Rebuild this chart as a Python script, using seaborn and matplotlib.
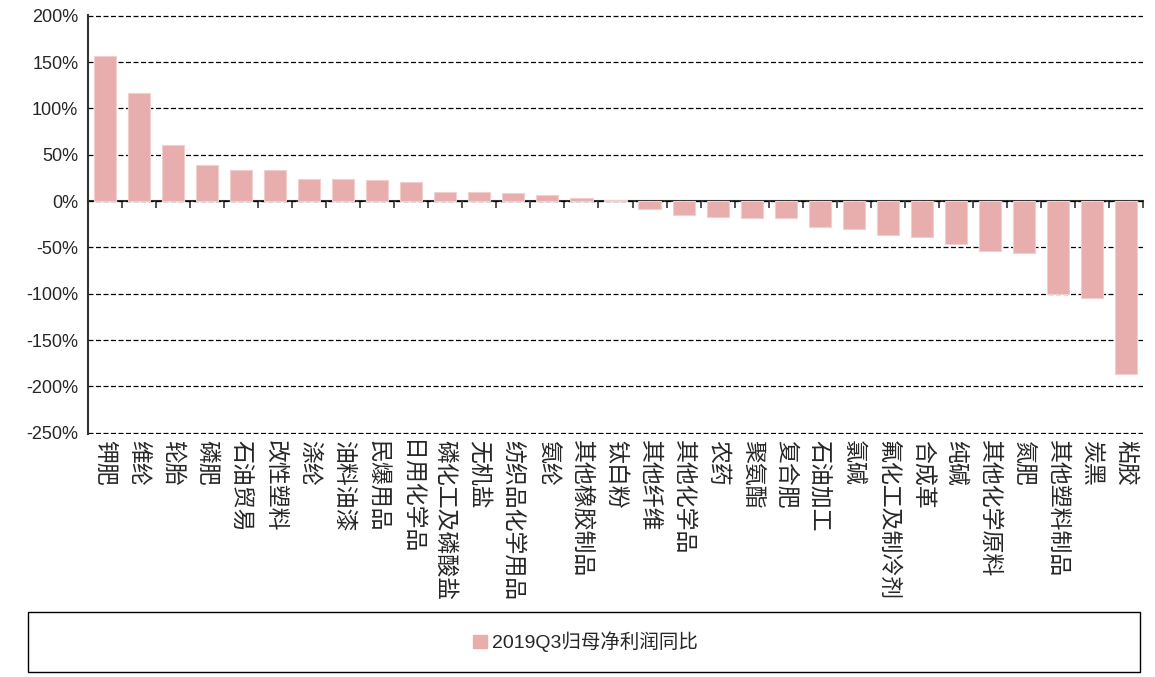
import numpy as np
import matplotlib
matplotlib.use("Agg")
import matplotlib.pyplot as plt
import seaborn as sns
from matplotlib.patches import Rectangle
from matplotlib.font_manager import FontProperties

# Data (percent)
categories = ["钾肥", "维纶", "轮胎", "磷肥", "石油贸易", "改性塑料", "涤纶", "油料油漆",
              "民爆用品", "日用化学品", "磷化工及磷酸盐", "无机盐", "纺织品化学用品", "氨纶",
              "其他橡胶制品", "钛白粉", "其他纤维", "其他化学品", "农药", "聚氨酯", "复合肥",
              "石油加工", "氯碱", "氟化工及制冷剂", "合成革", "纯碱", "其他化学原料", "氮肥",
              "其他塑料制品", "炭黑", "粘胶"]
values = [157, 117, 61, 39, 34, 34, 24, 24,
          23, 21, 10, 10, 8.5, 6.5,
          3, 1, -8.5, -15, -17, -18, -18,
          -28, -30, -36.5, -39, -46, -54, -56,
          -100, -105, -187]
series_name = "2019Q3归母净利润同比"
y_ticks = list(range(-250, 201, 50))

sns.set_style("white")
plt.rcParams["font.family"] = ["Liberation Sans", "Noto Sans CJK SC"]

fig = plt.figure(figsize=(11.55, 6.77), dpi=100)
ax = fig.add_axes([0.0762, 0.3589, 0.9134, 0.6190])

bar_color = "#E8AEAE"
sns.barplot(x=categories, y=values, color=bar_color, saturation=1, width=0.65, ax=ax,
            edgecolor="#F2CFCF", linewidth=0.8, zorder=3)

y_lo, y_hi = -251.5, 201
ax.set_xlim(-0.5, len(categories) - 0.5)
ax.set_ylim(y_lo, y_hi)
ax.set_yticks(y_ticks)
ax.set_yticklabels([f"{v}%" for v in y_ticks], fontsize=13)
ax.yaxis.grid(True, linestyle=(0, (4, 2)), color="black", linewidth=0.9)
ax.set_axisbelow(True)

for s in ["top", "right", "bottom"]:
    ax.spines[s].set_visible(False)
ax.spines["left"].set_color("#333333")
ax.spines["left"].set_linewidth(1.5)
ax.tick_params(axis="y", direction="out", length=5, width=1.2, color="#333333", pad=2)

# category labels below the plot, read top to bottom
ax.set_xticks(range(len(categories)))
ax.set_xticklabels(categories, rotation=270, fontsize=16.5,
                   fontfamily="Noto Sans CJK SC", va="top", ha="center")
ax.tick_params(axis="x", length=0, pad=4)

# zero line with tick marks between categories
zero_frac = (0 - y_lo) / (y_hi - y_lo)
sec = ax.secondary_xaxis(zero_frac)
sec.set_xticks(np.arange(len(categories) + 1) - 0.5)
sec.set_xticklabels([])
sec.xaxis.set_ticks_position("bottom")
sec.tick_params(axis="x", direction="out", length=5, width=1.2, color="#333333",
                labelbottom=False, labeltop=False)
for s in sec.spines.values():
    s.set_visible(False)
sec.spines["bottom"].set_visible(True)
sec.spines["bottom"].set_linewidth(1.5)
sec.spines["bottom"].set_color("#333333")
ax.set_xlabel("")
ax.set_ylabel("")

# legend with framed box spanning the figure
fig.patches.append(Rectangle((0.0242, 0.0074), 0.9628, 0.0886, transform=fig.transFigure,
                             fill=False, edgecolor="black", linewidth=1.0))
handle = Rectangle((0, 0), 1, 1, color=bar_color)
fig.legend([handle], [series_name], loc="center", bbox_to_anchor=(0.507, 0.0517),
           frameon=False, handlelength=0.7, handleheight=0.7, handletextpad=0.3,
           prop=FontProperties(family=["Liberation Sans", "Noto Sans CJK SC"], size=14))

fig.savefig("out.png", dpi=100)
